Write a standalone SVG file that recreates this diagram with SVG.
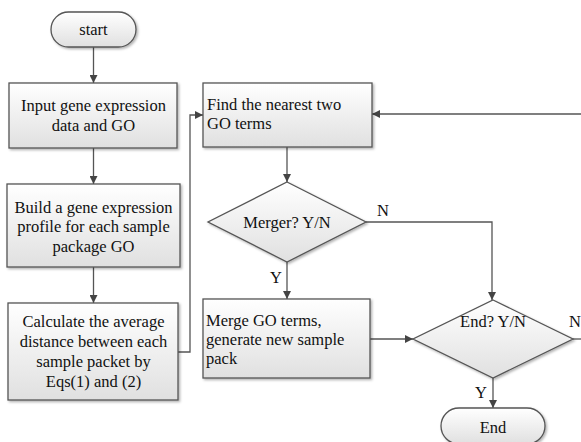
<svg xmlns="http://www.w3.org/2000/svg" width="581" height="442" viewBox="0 0 581 442">
<style>
.box{fill:url(#g);stroke:#555;stroke-width:1.3;filter:url(#sh)}
.ln{fill:none;stroke:#555;stroke-width:1.3}
.ar{marker-end:url(#ah)}
text{font-family:"Liberation Serif","Times New Roman",serif;font-size:16.5px;fill:#111}
.c{text-anchor:middle}
</style>
<defs>
<linearGradient id="g" x1="0" y1="0" x2="0" y2="1">
<stop offset="0" stop-color="#ffffff"/>
<stop offset="1" stop-color="#e0e0e0"/>
</linearGradient>
<filter id="sh" x="-10%" y="-10%" width="130%" height="130%">
<feDropShadow dx="1.5" dy="1.5" stdDeviation="0.8" flood-color="#000" flood-opacity="0.3"/>
</filter>
<marker id="ah" markerWidth="9" markerHeight="8" refX="8" refY="4" orient="auto" markerUnits="userSpaceOnUse">
<path d="M0,0 L8,4 L0,8 Z" fill="#444"/>
</marker>
</defs>
<g id="connectors">
<path class="ln ar" d="M93.5,47 V83"/>
<path class="ln ar" d="M93.5,148 V184"/>
<path class="ln ar" d="M93.5,267 V303"/>
<path class="ln ar" d="M178,352 H190 V115 H203"/>
<path class="ln ar" d="M581,114 H372"/>
<path class="ln ar" d="M287,147 V182"/>
<path class="ln ar" d="M287,262 V299"/>
<path class="ln ar" d="M366,222 H492 V300"/>
<path class="ln ar" d="M370,339 H413"/>
<path class="ln" d="M573,339 H581"/>
<path class="ln ar" d="M493,378 V408"/>
<text class="c" x="383" y="216">N</text>
<text class="c" x="276" y="283">Y</text>
<text class="c" x="575" y="327">N</text>
<text class="c" x="481" y="398">Y</text>
</g>
<g id="start">
<rect class="box" x="51" y="12" width="85" height="35" rx="17.5"/>
<text class="c" x="93.5" y="35">start</text>
</g>
<g id="input">
<rect class="box" x="9" y="83" width="168" height="65"/>
<text class="c" x="93.5" y="111">Input gene expression</text>
<text class="c" x="93.5" y="131">data and GO</text>
</g>
<g id="build">
<rect class="box" x="7" y="184" width="173" height="83"/>
<text class="c" x="93.5" y="213">Build a gene expression</text>
<text class="c" x="93.5" y="232">profile for each sample</text>
<text class="c" x="93.5" y="252">package GO</text>
</g>
<g id="calc">
<rect class="box" x="8" y="303" width="170" height="97"/>
<text class="c" x="93.5" y="327">Calculate the average</text>
<text class="c" x="93.5" y="347">distance between each</text>
<text class="c" x="93.5" y="367">sample packet by</text>
<text class="c" x="93.5" y="387">Eqs(1) and (2)</text>
</g>
<g id="find">
<rect class="box" x="203" y="83" width="169" height="64"/>
<text x="207" y="110">Find the nearest two</text>
<text x="207" y="129">GO terms</text>
</g>
<g id="merger">
<polygon class="box" points="287,182 366,222 287,262 208,222"/>
<text class="c" x="287" y="228">Merger? Y/N</text>
</g>
<g id="merge">
<rect class="box" x="203" y="299" width="167" height="79"/>
<text x="206" y="326">Merge GO terms,</text>
<text x="206" y="345">generate new sample</text>
<text x="206" y="364">pack</text>
</g>
<g id="endq">
<polygon class="box" points="493,300 573,339 493,378 413,339"/>
<text class="c" x="493" y="327">End? Y/N</text>
</g>
<g id="end">
<rect class="box" x="441" y="408" width="104" height="36" rx="18"/>
<text class="c" x="493" y="433">End</text>
</g>
</svg>
